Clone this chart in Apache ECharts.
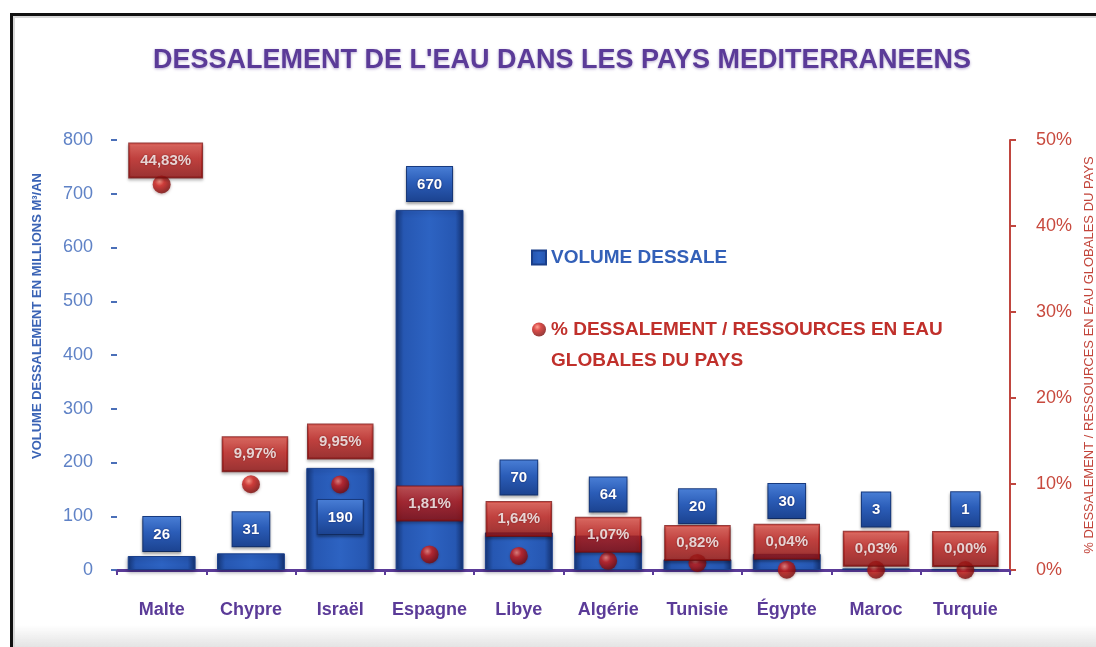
<!DOCTYPE html>
<html>
<head>
<meta charset="utf-8">
<script src="https://cdn.jsdelivr.net/npm/echarts@6/dist/echarts.min.js"></script>
<style>
  html, body { margin: 0; padding: 0; background: #fff; }
  #wrap { position: relative; width: 1096px; height: 647px; overflow: hidden; background: #fff; }
  #chart { position: absolute; left: 0; top: 0; width: 1096px; height: 647px; }
  #frame {
    position: absolute; left: 10px; top: 13px; right: -10px; bottom: -10px;
    border-left: 3px solid #111; border-top: 3px solid #111;
    box-shadow: inset 2px 2px 0 #d8d8d8;
    pointer-events: none;
  }
  #haze {
    position: absolute; left: 13px; right: 0; bottom: 0; height: 22px;
    background: linear-gradient(to bottom, rgba(235,235,235,0), rgba(225,225,225,0.9));
    pointer-events: none;
  }
</style>
</head>
<body>
<div id="wrap">
  <div id="chart"></div>
  <div id="haze"></div>
  <div id="frame"></div>
</div>
<script>
// Countries along the category axis
const categories = ['Malte', 'Chypre', 'Israël', 'Espagne', 'Libye', 'Algérie', 'Tunisie', 'Égypte', 'Maroc', 'Turquie'];
// Desalinated volume, million m³ per year
const volume = [26, 31, 190, 670, 70, 64, 20, 30, 3, 1];
// Share of desalination in the country's total water resources (%)
const percent = [44.83, 9.97, 9.95, 1.81, 1.64, 1.07, 0.82, 0.04, 0.03, 0.00];
// Axis ticks
const volumeTicks = { min: 0, max: 800, interval: 100 };
const percentTicks = { min: 0, max: 50, interval: 10 };

// Label placement tweaks (pixels) so the value boxes do not collide
const volumeLabelShift = [-5, -7, 66, -9, -38, -24, -36, -36, -42, -43];
const percentLabelShift = [[4, -24], [4, -30], [0, -43], [0, -51], [0, -37], [0, -26], [0, -20], [0, -28], [0, -21], [0, -21]];

const RED = '#c0302b';
const PURPLE = '#5b3b98';
const FONT = '"Liberation Sans", Arial, sans-serif';

const fmtPct = v => v.toFixed(2).replace('.', ',') + '%';

const barGradient = new echarts.graphic.LinearGradient(0, 0, 1, 0, [
  { offset: 0, color: '#163779' },
  { offset: 0.12, color: '#2657b2' },
  { offset: 0.5, color: '#2d63c2' },
  { offset: 0.88, color: '#2657b2' },
  { offset: 1, color: '#143271' }
]);
const blueBox = new echarts.graphic.LinearGradient(0, 0, 0, 1, [
  { offset: 0, color: '#4a7fd6' },
  { offset: 0.45, color: '#2b5db8' },
  { offset: 1, color: '#1b428f' }
]);
const redBox = new echarts.graphic.LinearGradient(0, 0, 0, 1, [
  { offset: 0, color: '#e0554b' },
  { offset: 0.45, color: '#c1221f' },
  { offset: 1, color: '#8f1010' }
]);
const sphere = new echarts.graphic.RadialGradient(0.38, 0.32, 0.75, [
  { offset: 0, color: '#ff8a78' },
  { offset: 0.35, color: '#d0201c' },
  { offset: 1, color: '#6e0707' }
]);

const chart = echarts.init(document.getElementById('chart'), null, { renderer: 'canvas' });

chart.setOption({
  backgroundColor: 'transparent',
  animation: false,
  title: {
    text: "DESSALEMENT DE L'EAU DANS LES PAYS MEDITERRANEENS",
    left: 148,
    top: 42,
    textStyle: {
      color: PURPLE, fontFamily: FONT, fontWeight: 'bold', fontSize: 27,
      textShadowColor: 'rgba(90,60,150,0.45)', textShadowBlur: 3, textShadowOffsetY: 1
    }
  },
  legend: {
    orient: 'vertical',
    left: 526,
    top: 237,
    itemGap: 10,
    itemWidth: 14,
    itemHeight: 14,
    selectedMode: false,
    textStyle: { fontFamily: FONT, fontWeight: 'bold', fontSize: 19, lineHeight: 31 },
    data: [
      { name: 'VOLUME DESSALE', icon: 'rect', textStyle: { color: '#3360b8' } },
      { name: '% DESSALEMENT / RESSOURCES EN EAU GLOBALES DU PAYS', icon: 'circle', textStyle: { color: RED } }
    ],
    // the second entry wraps; a leading blank line keeps its marker beside the first line
    formatter: name => name.indexOf(' EAU GLOBALES') > 0
      ? ' \n' + name.replace(' EAU GLOBALES', ' EAU\nGLOBALES')
      : name
  },
  grid: { left: 117, right: 86, top: 140, bottom: 77, outerBoundsMode: 'none', containLabel: false },
  xAxis: {
    type: 'category',
    data: categories,
    axisLine: { lineStyle: { color: PURPLE, width: 3 } },
    axisTick: { show: true, length: 5, lineStyle: { color: PURPLE, width: 2 } },
    axisLabel: { interval: 0, color: PURPLE, fontFamily: FONT, fontWeight: 'bold', fontSize: 18, margin: 31 }
  },
  yAxis: [
    {
      type: 'value',
      min: volumeTicks.min, max: volumeTicks.max, interval: volumeTicks.interval,
      name: 'VOLUME DESSALEMENT EN MILLIONS M³/AN',
      nameLocation: 'middle',
      nameGap: 73,
      nameTextStyle: { color: '#3a63b5', fontFamily: FONT, fontWeight: 'bold', fontSize: 13, padding: [0, 0, 0, 78] },
      axisLine: { show: false },
      axisTick: { show: true, length: 6, lineStyle: { color: '#4a6fb8', width: 2 } },
      axisLabel: { color: '#5f82c6', fontFamily: FONT, fontSize: 18, margin: 24 },
      splitLine: { show: false }
    },
    {
      type: 'value',
      position: 'right',
      min: percentTicks.min, max: percentTicks.max, interval: percentTicks.interval,
      name: '% DESSALEMENT / RESSOURCES EN EAU GLOBALES DU PAYS',
      nameLocation: 'middle',
      nameGap: 71,
      nameTextStyle: { color: '#c2443a', fontFamily: FONT, fontSize: 13 },
      axisLine: { show: true, lineStyle: { color: '#c0463f', width: 2 } },
      axisTick: { show: true, length: 6, lineStyle: { color: '#c0463f', width: 2 } },
      axisLabel: { color: '#c84a3e', fontFamily: FONT, fontSize: 18, margin: 26, formatter: '{value}%' },
      splitLine: { show: false }
    }
  ],
  series: [
    {
      name: 'VOLUME DESSALE',
      type: 'bar',
      barWidth: '76%',
      yAxisIndex: 0,
      z: 2,
      itemStyle: { color: barGradient, borderColor: '#1a3f8a', borderWidth: 1, shadowColor: 'rgba(0,0,40,0.35)', shadowBlur: 4, shadowOffsetY: 2 },
      data: volume.map((v, i) => ({
        value: v,
        label: { offset: [0, volumeLabelShift[i]] }
      })),
      label: {
        show: true,
        position: 'top',
        distance: 0,
        color: '#fff',
        fontFamily: FONT,
        fontWeight: 'bold',
        fontSize: 15,
        backgroundColor: blueBox,
        borderColor: '#173a80',
        borderWidth: 1,
        padding: [10, 10, 9, 10],
        shadowColor: 'rgba(0,0,0,0.35)', shadowBlur: 3, shadowOffsetY: 2,
        textShadowColor: 'rgba(0,0,50,0.6)', textShadowBlur: 2
      }
    },
    {
      name: '% DESSALEMENT / RESSOURCES EN EAU GLOBALES DU PAYS',
      type: 'scatter',
      yAxisIndex: 1,
      symbol: 'circle',
      symbolSize: 18,
      z: 5,
      itemStyle: { color: sphere, shadowColor: 'rgba(60,0,0,0.4)', shadowBlur: 3, shadowOffsetY: 1 },
      data: percent.map((v, i) => ({
        value: v,
        label: { offset: percentLabelShift[i] }
      })),
      label: {
        show: true,
        position: 'inside',
        formatter: p => fmtPct(p.value),
        color: '#fff',
        fontFamily: FONT,
        fontWeight: 'bold',
        fontSize: 15,
        backgroundColor: redBox,
        borderColor: '#7e0c0c',
        borderWidth: 1,
        padding: [10, 11, 9, 11],
        shadowColor: 'rgba(0,0,0,0.35)', shadowBlur: 3, shadowOffsetY: 2,
        textShadowColor: 'rgba(60,0,0,0.7)', textShadowBlur: 2
      }
    }
  ]
});
</script>
</body>
</html>
